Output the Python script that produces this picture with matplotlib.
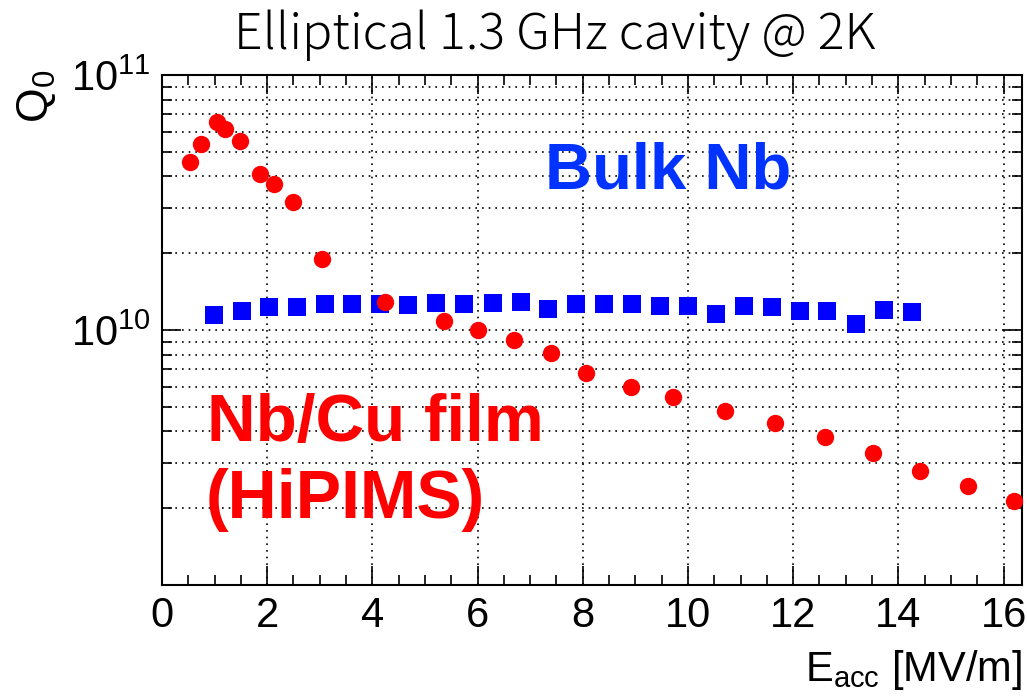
import numpy as np
import matplotlib
matplotlib.use('Agg')
import matplotlib.pyplot as plt
from matplotlib.ticker import LogLocator, MultipleLocator, NullFormatter, FixedLocator

plt.rcParams['font.family'] = ['Liberation Sans', 'DejaVu Sans']
plt.rcParams['mathtext.fontset'] = 'custom'
plt.rcParams['mathtext.rm'] = 'Liberation Sans'
plt.rcParams['mathtext.it'] = 'Liberation Sans'
plt.rcParams['mathtext.default'] = 'regular'

# --- данные: Nb/Cu плёнка (HiPIMS) ---
film_e = [0.53, 0.75, 1.05, 1.19, 1.49, 1.86, 2.13, 2.50, 3.05, 4.24, 5.37, 6.0,
          6.70, 7.39, 8.07, 8.92, 9.71, 10.70, 11.65, 12.61, 13.51, 14.41, 15.32, 16.19]
film_q = [4.55e10, 5.38e10, 6.55e10, 6.16e10, 5.52e10, 4.09e10, 3.74e10, 3.18e10, 1.90e10,
          1.29e10, 1.08e10, 1.00e10, 9.1e9, 8.1e9, 6.8e9, 5.95e9, 5.45e9, 4.8e9, 4.3e9,
          3.8e9, 3.3e9, 2.8e9, 2.45e9, 2.13e9]

# --- данные: Bulk Nb ---
bulk_e = [0.99, 1.52, 2.04, 2.57, 3.10, 3.62, 4.14, 4.68, 5.21, 5.74, 6.29, 6.82, 7.34,
          7.87, 8.40, 8.94, 9.47, 10.0, 10.53, 11.06, 11.59, 12.12, 12.65, 13.19, 13.72, 14.25]
bulk_q = [1.14e10, 1.19e10, 1.23e10, 1.23e10, 1.27e10, 1.26e10, 1.26e10, 1.25e10, 1.28e10,
          1.26e10, 1.28e10, 1.29e10, 1.21e10, 1.26e10, 1.26e10, 1.26e10, 1.24e10, 1.24e10,
          1.16e10, 1.24e10, 1.23e10, 1.19e10, 1.19e10, 1.06e10, 1.20e10, 1.18e10]

W, H = 1027, 698
fig = plt.figure(figsize=(W / 100, H / 100), dpi=100)
ax = fig.add_axes([162 / W, 1 - 585 / H, (1022 - 162) / W, (585 - 75) / H])

ax.plot(bulk_e, bulk_q, 's', color='#0000ff', markersize=12.5, markeredgewidth=0, clip_on=False, zorder=3)
ax.plot(film_e, film_q, 'o', color='#ff0000', markersize=12.5, markeredgewidth=0, clip_on=False, zorder=4)

ax.set_yscale('log')
ax.set_xlim(0, 16.35)
ax.set_ylim(1e9, 1e11)

ax.xaxis.set_major_locator(MultipleLocator(2))
ax.xaxis.set_minor_locator(MultipleLocator(0.5))
ax.yaxis.set_major_locator(FixedLocator([1e10, 1e11]))
ax.yaxis.set_minor_locator(LogLocator(base=10, subs=np.arange(2, 10)))
ax.yaxis.set_minor_formatter(NullFormatter())
ax.set_yticks([1e10, 1e11])
ax.set_yticklabels([r'$10^{10}$', r'$10^{11}$'])

ax.tick_params(which='both', direction='in', top=True, right=True, labelsize=30, width=1.2)
ax.tick_params(which='major', length=14, pad=8)
ax.tick_params(which='minor', length=7)
for s in ax.spines.values():
    s.set_linewidth(1.5)

ax.grid(True, which='major', axis='x', color='black', linestyle=(0, (1, 3)), linewidth=1.2)
ax.grid(True, which='both', axis='y', color='black', linestyle=(0, (1, 3)), linewidth=1.2)

ax.text(7.29, 4.17e10, 'Bulk Nb', color='#0033ff', fontsize=47, fontweight='bold',
        ha='left', va='center')
ax.text(0.85, 4.28e9, 'Nb/Cu film', color='#ff0000', fontsize=48.5, fontweight='bold',
        ha='left', va='center')
ax.text(0.82, 2.15e9, '(HiPIMS)', color='#ff0000', fontsize=49, fontweight='bold',
        ha='left', va='center')

fig.text(555 / W, 1 - 35 / H, 'Elliptical 1.3 GHz cavity @ 2K', fontsize=36,
         family=['Noto Sans CJK JP', 'DejaVu Sans'], fontweight='light',
         ha='center', va='center')
fig.text(36 / W, 1 - 70 / H, r'$Q_{0}$', fontsize=32, rotation=90, ha='center', va='top')
fig.text(1022 / W, 1 - 692 / H, r'$E_{acc}$ [MV/m]', fontsize=30, ha='right', va='bottom')

fig.savefig('out.png', dpi=100)
